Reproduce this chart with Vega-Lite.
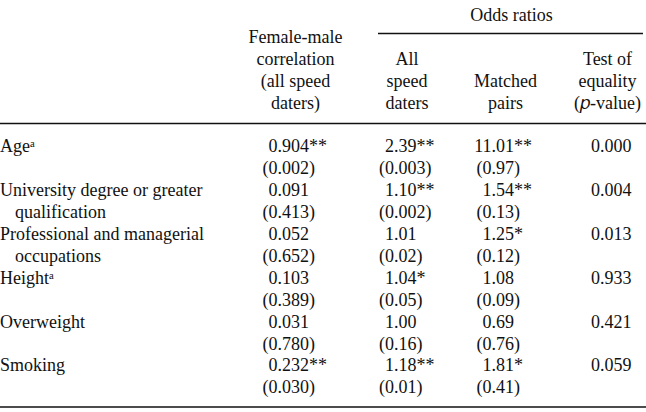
{
  "$schema": "https://vega.github.io/schema/vega-lite/v6.json",
  "width": 646,
  "height": 412,
  "autosize": {"type": "none"},
  "padding": 0,
  "background": "white",
  "config": {"view": {"stroke": null}, "text": {"font": "Liberation Serif", "fontSize": 18, "color": "#111111", "baseline": "alphabetic"}},
  "datasets": {
    "labels": [
      {"line": 6, "label": "Ageᵃ"},
      {"line": 8, "label": "University degree or greater"},
      {"line": 10, "label": "Professional and managerial"},
      {"line": 12, "label": "Heightᵃ"},
      {"line": 14, "label": "Overweight"},
      {"line": 16, "label": "Smoking"}
    ],
    "sublabels": [
      {"line": 9, "label": "qualification"},
      {"line": 11, "label": "occupations"}
    ],
    "head": [
      {"line": 1, "col": 1, "text": "Female-male"},
      {"line": 2, "col": 1, "text": "correlation"},
      {"line": 3, "col": 1, "text": "(all speed"},
      {"line": 4, "col": 1, "text": "daters)"},
      {"line": 2, "col": 2, "text": "All"},
      {"line": 3, "col": 2, "text": "speed"},
      {"line": 4, "col": 2, "text": "daters"},
      {"line": 3, "col": 3, "text": "Matched"},
      {"line": 4, "col": 3, "text": "pairs"},
      {"line": 2, "col": 4, "text": "Test of"},
      {"line": 3, "col": 4, "text": "equality"},
      {"line": 4, "col": 4, "text": "(𝑝-value)"}
    ],
    "group": [{"text": "Odds ratios", "line": 0}],
    "body": [
      {"line": 6, "col": 1, "lead": "0", "rest": ".904**"},
      {"line": 6, "col": 2, "lead": "2", "rest": ".39**"},
      {"line": 6, "col": 3, "lead": "11", "rest": ".01**"},
      {"line": 6, "col": 4, "lead": "0", "rest": ".000"},
      {"line": 7, "col": 1, "lead": "(0", "rest": ".002)"},
      {"line": 7, "col": 2, "lead": "(0", "rest": ".003)"},
      {"line": 7, "col": 3, "lead": "(0", "rest": ".97)"},
      {"line": 8, "col": 1, "lead": "0", "rest": ".091"},
      {"line": 8, "col": 2, "lead": "1", "rest": ".10**"},
      {"line": 8, "col": 3, "lead": "1", "rest": ".54**"},
      {"line": 8, "col": 4, "lead": "0", "rest": ".004"},
      {"line": 9, "col": 1, "lead": "(0", "rest": ".413)"},
      {"line": 9, "col": 2, "lead": "(0", "rest": ".002)"},
      {"line": 9, "col": 3, "lead": "(0", "rest": ".13)"},
      {"line": 10, "col": 1, "lead": "0", "rest": ".052"},
      {"line": 10, "col": 2, "lead": "1", "rest": ".01"},
      {"line": 10, "col": 3, "lead": "1", "rest": ".25*"},
      {"line": 10, "col": 4, "lead": "0", "rest": ".013"},
      {"line": 11, "col": 1, "lead": "(0", "rest": ".652)"},
      {"line": 11, "col": 2, "lead": "(0", "rest": ".02)"},
      {"line": 11, "col": 3, "lead": "(0", "rest": ".12)"},
      {"line": 12, "col": 1, "lead": "0", "rest": ".103"},
      {"line": 12, "col": 2, "lead": "1", "rest": ".04*"},
      {"line": 12, "col": 3, "lead": "1", "rest": ".08"},
      {"line": 12, "col": 4, "lead": "0", "rest": ".933"},
      {"line": 13, "col": 1, "lead": "(0", "rest": ".389)"},
      {"line": 13, "col": 2, "lead": "(0", "rest": ".05)"},
      {"line": 13, "col": 3, "lead": "(0", "rest": ".09)"},
      {"line": 14, "col": 1, "lead": "0", "rest": ".031"},
      {"line": 14, "col": 2, "lead": "1", "rest": ".00"},
      {"line": 14, "col": 3, "lead": "0", "rest": ".69"},
      {"line": 14, "col": 4, "lead": "0", "rest": ".421"},
      {"line": 15, "col": 1, "lead": "(0", "rest": ".780)"},
      {"line": 15, "col": 2, "lead": "(0", "rest": ".16)"},
      {"line": 15, "col": 3, "lead": "(0", "rest": ".76)"},
      {"line": 16, "col": 1, "lead": "0", "rest": ".232**"},
      {"line": 16, "col": 2, "lead": "1", "rest": ".18**"},
      {"line": 16, "col": 3, "lead": "1", "rest": ".81*"},
      {"line": 16, "col": 4, "lead": "0", "rest": ".059"},
      {"line": 17, "col": 1, "lead": "(0", "rest": ".030)"},
      {"line": 17, "col": 2, "lead": "(0", "rest": ".01)"},
      {"line": 17, "col": 3, "lead": "(0", "rest": ".41)"}
    ]
  },
  "resolve": {"scale": {"x": "independent"}},
  "layer": [
    {
      "data": {"name": "labels"},
      "mark": {"type": "text", "align": "left", "font": "Liberation Serif", "fontSize": 18},
      "encoding": {
        "x": {"datum": 0, "type": "quantitative", "scale": {"domain": [0, 1, 2, 3, 4], "range": [0, 277.5, 394, 491.5, 600], "nice": false, "zero": false}, "axis": null},
        "y": {"field": "line", "type": "quantitative", "scale": {"domain": [-0.963, 17.85], "reverse": true, "nice": false, "zero": false}, "axis": null},
        "text": {"field": "label", "type": "nominal"}
      }
    },
    {
      "data": {"name": "sublabels"},
      "mark": {"type": "text", "align": "left", "dx": 15, "font": "Liberation Serif", "fontSize": 18},
      "encoding": {
        "x": {"datum": 0, "type": "quantitative", "scale": {"domain": [0, 1, 2, 3, 4], "range": [0, 277.5, 394, 491.5, 600], "nice": false, "zero": false}, "axis": null},
        "y": {"field": "line", "type": "quantitative", "scale": {"domain": [-0.963, 17.85], "reverse": true, "nice": false, "zero": false}, "axis": null},
        "text": {"field": "label", "type": "nominal"}
      }
    },
    {
      "data": {"name": "body"},
      "mark": {"type": "text", "align": "right", "font": "Liberation Serif", "fontSize": 18},
      "encoding": {
        "x": {"field": "col", "type": "quantitative", "scale": {"domain": [0, 1, 2, 3, 4], "range": [0, 277.5, 394, 491.5, 600], "nice": false, "zero": false}, "axis": null},
        "y": {"field": "line", "type": "quantitative", "scale": {"domain": [-0.963, 17.85], "reverse": true, "nice": false, "zero": false}, "axis": null},
        "text": {"field": "lead", "type": "nominal"}
      }
    },
    {
      "data": {"name": "body"},
      "mark": {"type": "text", "align": "left", "font": "Liberation Serif", "fontSize": 18},
      "encoding": {
        "x": {"field": "col", "type": "quantitative", "scale": {"domain": [0, 1, 2, 3, 4], "range": [0, 277.5, 394, 491.5, 600], "nice": false, "zero": false}, "axis": null},
        "y": {"field": "line", "type": "quantitative", "scale": {"domain": [-0.963, 17.85], "reverse": true, "nice": false, "zero": false}, "axis": null},
        "text": {"field": "rest", "type": "nominal"}
      }
    },
    {
      "data": {"name": "head"},
      "mark": {"type": "text", "align": "center", "font": "Liberation Serif", "fontSize": 18},
      "encoding": {
        "x": {"field": "col", "type": "quantitative", "scale": {"domain": [0, 1, 2, 3, 4], "range": [0, 295.5, 407, 505.5, 607.5], "nice": false, "zero": false}, "axis": null},
        "y": {"field": "line", "type": "quantitative", "scale": {"domain": [-0.963, 17.85], "reverse": true, "nice": false, "zero": false}, "axis": null},
        "text": {"field": "text", "type": "nominal"}
      }
    },
    {
      "data": {"name": "group"},
      "mark": {"type": "text", "align": "center", "font": "Liberation Serif", "fontSize": 18},
      "encoding": {
        "x": {"datum": 3.06, "type": "quantitative", "scale": {"domain": [0, 1, 2, 3, 4], "range": [0, 295.5, 407, 505.5, 607.5], "nice": false, "zero": false}, "axis": null},
        "y": {"field": "line", "type": "quantitative", "scale": {"domain": [-0.963, 17.85], "reverse": true, "nice": false, "zero": false}, "axis": null},
        "text": {"field": "text", "type": "nominal"}
      }
    },
    {
      "data": {"name": "group"},
      "mark": {"type": "rule", "color": "#111111", "strokeWidth": 1.5},
      "encoding": {
        "x": {"datum": 1.74, "type": "quantitative", "scale": {"domain": [0, 1, 2, 3, 4], "range": [0, 295.5, 407, 505.5, 607.5], "nice": false, "zero": false}, "axis": null},
        "x2": {"datum": 4.348},
        "y": {"datum": 0.566, "type": "quantitative", "scale": {"domain": [-0.963, 17.85], "reverse": true, "nice": false, "zero": false}, "axis": null}
      }
    },
    {
      "data": {"name": "group"},
      "mark": {"type": "rule", "color": "#111111", "strokeWidth": 1.6},
      "encoding": {
        "y": {"datum": 4.676, "type": "quantitative", "scale": {"domain": [-0.963, 17.85], "reverse": true, "nice": false, "zero": false}, "axis": null}
      }
    },
    {
      "data": {"name": "group"},
      "mark": {"type": "rule", "color": "#111111", "strokeWidth": 1.6},
      "encoding": {
        "y": {"datum": 17.62, "type": "quantitative", "scale": {"domain": [-0.963, 17.85], "reverse": true, "nice": false, "zero": false}, "axis": null}
      }
    }
  ]
}
